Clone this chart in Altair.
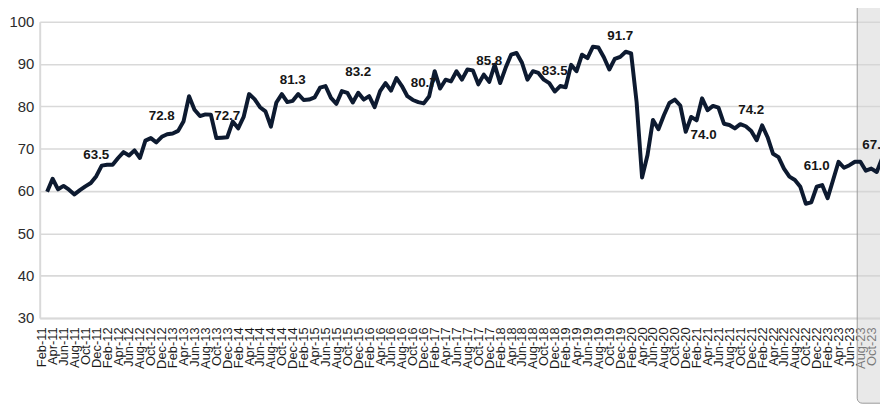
import altair as alt
import pandas as pd

# ---------------- data ----------------
MONTH_ABBR = ["Jan", "Feb", "Mar", "Apr", "May", "Jun",
              "Jul", "Aug", "Sep", "Oct", "Nov", "Dec"]
YEARS = list(range(2011, 2024))
# categories Feb-11 ... Dec-23
months = [f"{m}-{y % 100:02d}" for y in YEARS for m in MONTH_ABBR][1:]

values = [
    None, 59.8, 62.9, 60.4, 61.2, 60.3, 59.2, 60.2, 61.1, 61.9, 63.5,   # Feb-11..Dec-11
    66.0, 66.2, 66.2, 67.8, 69.2, 68.4, 69.6, 67.8, 71.9, 72.5, 71.5, 72.8,  # 2012
    73.4, 73.6, 74.2, 76.5, 82.4, 79.2, 77.7, 78.1, 78.0, 72.5, 72.6, 72.7,  # 2013
    76.4, 74.8, 77.5, 82.9, 81.7, 79.8, 78.8, 75.2, 80.9, 82.9, 81.0, 81.3,  # 2014
    82.9, 81.5, 81.6, 82.1, 84.4, 84.8, 82.0, 80.6, 83.6, 83.2, 80.9, 83.2,  # 2015
    81.6, 82.4, 79.8, 83.6, 85.5, 83.7, 86.7, 84.8, 82.4, 81.5, 81.0, 80.7,  # 2016
    82.4, 88.3, 84.2, 86.3, 85.9, 88.3, 86.3, 88.7, 88.5, 85.2, 87.5, 85.8,  # 2017
    89.8, 85.5, 89.1, 92.2, 92.6, 90.3, 86.3, 88.3, 87.9, 86.3, 85.5, 83.5,  # 2018
    84.8, 84.5, 89.8, 88.3, 92.2, 91.4, 94.1, 93.9, 91.6, 88.7, 91.2, 91.7,  # 2019
    92.9, 92.5, 81.0, 63.2, 68.5, 76.8, 74.6, 77.9, 80.8, 81.6, 80.2, 74.0,  # 2020
    77.5, 76.7, 81.9, 79.1, 80.1, 79.7, 75.9, 75.6, 74.8, 75.8, 75.3, 74.2,  # 2021
    72.0, 75.5, 72.7, 68.8, 68.0, 65.3, 63.4, 62.6, 61.0, 57.0, 57.3, 61.0,  # 2022
    61.4, 58.3, 62.6, 66.9, 65.5, 66.1, 66.9, 66.9, 64.8, 65.3, 64.5, 67.8,  # 2023
]

label_months = ["Dec-11", "Dec-12", "Dec-13", "Dec-14", "Dec-15", "Dec-16", "Dec-17",
                "Dec-18", "Dec-19", "Dec-20", "Dec-21", "Dec-22", "Dec-23"]
label_texts = ["63.5", "72.8", "72.7", "81.3", "83.2", "80.7", "85.8",
               "83.5", "91.7", "74.0", "74.2", "61.0", "67.8"]
label_side = ["above"] * 9 + ["right", "above", "above", "edge"]

y_ticks = [30, 40, 50, 60, 70, 80, 90, 100]

# ---------------- tables ----------------
df = pd.DataFrame({"i": list(range(len(months))), "month": months, "value": values})
idx = {m: k for k, m in enumerate(months)}
df_lab = pd.DataFrame({
    "i": [idx[m] for m in label_months],
    "value": [float(t) for t in label_texts],
    "text": label_texts,
    "side": label_side,
})

# ---------------- layout / style ----------------
FONT = "Liberation Sans, Arial, sans-serif"
PLOT_W, PLOT_H = 848, 299
STEP = 5.508
X_LO = -0.363
X_HI = X_LO + PLOT_W / STEP
tick_idx = list(range(0, len(months), 2))
label_expr = "[" + ",".join(f"'{m}'" for m in months) + "][datum.value]"

x_enc = alt.X(
    "i:Q",
    scale=alt.Scale(domain=[X_LO, X_HI], nice=False, zero=False),
    axis=alt.Axis(values=tick_idx, tickCount=len(tick_idx) + 10,
                  labelExpr=label_expr, labelAngle=270,
                  labelFont=FONT, labelFontSize=13, labelColor="#1a1a1a",
                  labelPadding=9, ticks=False, grid=False, domain=True,
                  domainColor="#d9d9d9", domainWidth=2, title=None,
                  labelOverlap=False, labelBound=False, labelFlush=False),
)
y_enc = alt.Y(
    "value:Q",
    scale=alt.Scale(domain=[30, 100], nice=False, zero=False),
    axis=alt.Axis(values=y_ticks, labelFont=FONT, labelFontSize=15,
                  labelColor="#2b2b2b", labelPadding=6, ticks=False,
                  grid=True, gridColor="#d9d9d9", gridWidth=1.6,
                  domain=True, domainColor="#d9d9d9", domainWidth=2, title=None),
)

line = alt.Chart(df).mark_line(
    color="#0d1a30", strokeWidth=4, strokeJoin="round", strokeCap="butt", clip=True
).encode(x=x_enc, y=y_enc)

text_style = dict(font=FONT, fontSize=13.5, fontWeight="bold", color="#161616",
                  align="center", baseline="middle")
lab_base = alt.Chart(df_lab).encode(x="i:Q", y="value:Q", text="text:N")
lab_above = lab_base.transform_filter("datum.side == 'above'").mark_text(dy=-21, **text_style)
lab_right = lab_base.transform_filter("datum.side == 'right'").mark_text(dx=18, dy=3, **text_style)
lab_edge = lab_base.transform_filter("datum.side == 'edge'").mark_text(dx=-7, dy=-13, **text_style)

panel = alt.Chart(pd.DataFrame({"p": [0]})).mark_rect(
    fill="#d4d4d4", fillOpacity=0.5, stroke="#9a9a9a", strokeWidth=1, cornerRadius=5
).encode(x=alt.value(825), x2=alt.value(900), y=alt.value(-30), y2=alt.value(385))

chart = alt.layer(panel, line, lab_above, lab_right, lab_edge).properties(
    width=PLOT_W, height=PLOT_H,
    padding={"left": 32, "top": 12, "right": 0, "bottom": 86},
    autosize=alt.AutoSizeParams(type="none"),
    background="white",
).configure_view(stroke=None)

chart.save("out.html", embed_options={"renderer": "svg", "actions": False})
